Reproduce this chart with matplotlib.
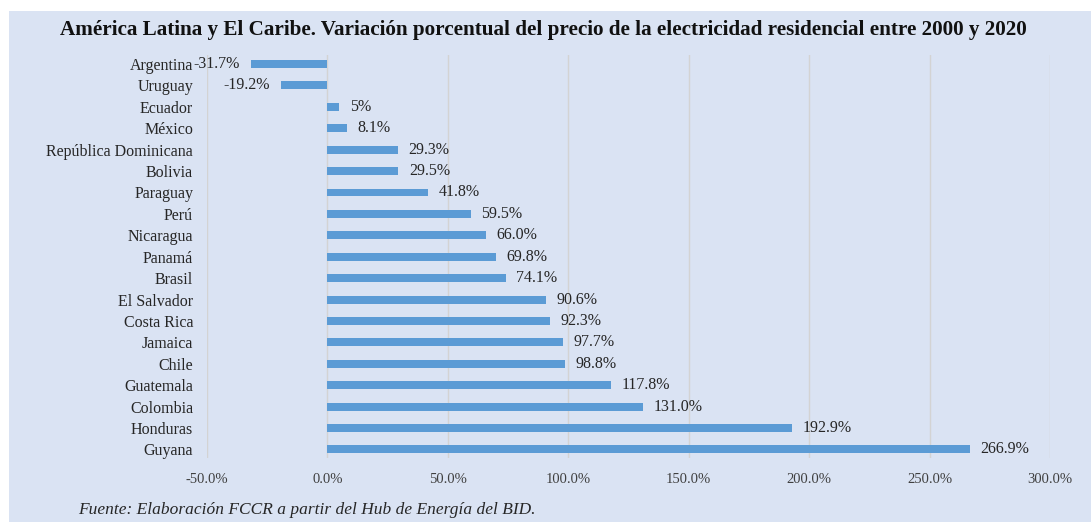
import matplotlib.pyplot as plt
from matplotlib.patches import Rectangle

## DATA
paises = ['Argentina', 'Uruguay', 'Ecuador', 'México', 'República Dominicana', 'Bolivia',
          'Paraguay', 'Perú', 'Nicaragua', 'Panamá', 'Brasil', 'El Salvador', 'Costa Rica',
          'Jamaica', 'Chile', 'Guatemala', 'Colombia', 'Honduras', 'Guyana']
variacion = [-31.7, -19.2, 5.0, 8.1, 29.3, 29.5, 41.8, 59.5, 66.0, 69.8, 74.1, 90.6, 92.3,
             97.7, 98.8, 117.8, 131.0, 192.9, 266.9]
etiquetas = ['-31.7%', '-19.2%', '5%', '8.1%', '29.3%', '29.5%', '41.8%', '59.5%', '66.0%',
             '69.8%', '74.1%', '90.6%', '92.3%', '97.7%', '98.8%', '117.8%', '131.0%',
             '192.9%', '266.9%']
x_ticks = [-50, 0, 50, 100, 150, 200, 250, 300]

bg = '#dae3f3'
plt.rcParams['font.family'] = ['Liberation Serif', 'DejaVu Serif']

fig = plt.figure(figsize=(10.91, 5.22), dpi=100, facecolor='white')
# light blue panel, leaving a thin white strip at top and left
fig.patches.append(Rectangle((9 / 1091, 0), 1, 1 - 11 / 522, transform=fig.transFigure,
                             facecolor=bg, edgecolor='none', zorder=0))

ax = fig.add_axes([207 / 1091, 64 / 522, (1050 - 207) / 1091, (467 - 64) / 522])
ax.set_facecolor('none')
ax.set_zorder(5)

y = list(range(len(paises)))
bars = ax.barh(y, variacion, height=0.37, color='#5b9bd5', zorder=3)

for bar, txt in zip(bars, etiquetas):
    w = bar.get_width()
    yc = bar.get_y() + bar.get_height() / 2
    if w < 0:
        ax.annotate(txt, (w, yc), xytext=(-8, 0), textcoords='offset points',
                    ha='right', va='center', fontsize=11.5, color='#262626')
    else:
        ax.annotate(txt, (w, yc), xytext=(7.5, 0), textcoords='offset points',
                    ha='left', va='center', fontsize=11.5, color='#262626')

ax.set_xlim(-50, 300)
ax.set_ylim(18.4, -0.42)
ax.set_xticks(x_ticks)
ax.set_xticklabels([f'{v:.1f}%' for v in x_ticks], fontsize=10.5, color='#404040')
ax.set_yticks(y)
ax.set_yticklabels(paises, fontsize=11.5, color='#262626')
ax.tick_params(length=0, axis='y', pad=10)
ax.tick_params(length=0, axis='x', pad=11)
ax.grid(axis='x', color='#d3d3d3', linewidth=1, zorder=0)
for s in ax.spines.values():
    s.set_visible(False)

fig.text(543 / 1091, 1 - 30 / 522,
         'América Latina y El Caribe. Variación porcentual del precio de la electricidad residencial entre 2000 y 2020',
         ha='center', va='center', fontsize=15.2, fontweight='bold', color='#111111')
fig.text(78 / 1091, 1 - 510 / 522, 'Fuente: Elaboración FCCR a partir del Hub de Energía del BID.',
         ha='left', va='center', fontsize=12.5, style='italic', color='#262626')

plt.savefig('out.png', dpi=100, facecolor='white')
